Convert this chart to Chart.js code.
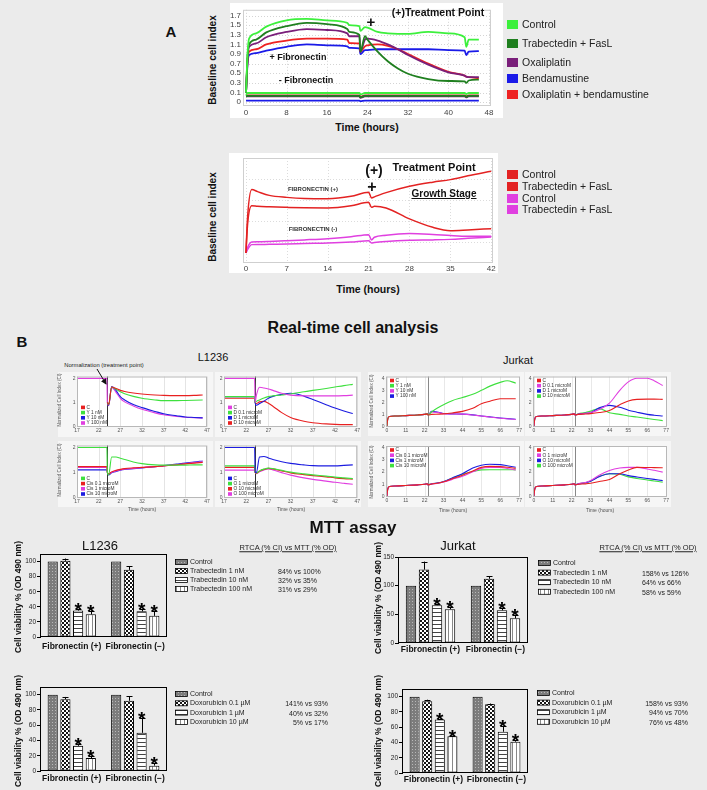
<!DOCTYPE html>
<html><head><meta charset="utf-8">
<script src="https://cdn.jsdelivr.net/npm/chart.js@4.4.1/dist/chart.umd.min.js"></script>
<style>
body{margin:0;background:#ebebeb;font-family:"Liberation Sans",Arial,Helvetica,sans-serif;}
#root{position:relative;width:707px;height:790px;overflow:hidden;background:#ebebeb;}
canvas{position:absolute;}
.t{position:absolute;white-space:nowrap;color:#111;line-height:1;}
.sq{position:absolute;}
</style></head><body><div id="root"></div>
<script>
// ================= DATA =================
// Panel A (top): Baseline cell index, +/- fibronectin
const aTime = [0,0.3,0.6,2,4,8,12,16,20,20.4,22.4,22.6,23.5,24,26,28,30,32,36,40,43.2,43.5,44,46];
const aCtrlPos  = [0.1,0.9,1.22,1.33,1.47,1.6,1.63,1.6,1.55,1.5,1.48,1.38,1.46,1.45,1.36,1.33,1.32,1.32,1.36,1.33,1.25,1.05,1.2,1.2];
const aTrabPos  = [0.1,0.85,1.1,1.2,1.35,1.48,1.55,1.52,1.42,1.36,1.3,0.95,1.27,1.2,0.95,0.75,0.6,0.49,0.38,0.34,0.33,0.3,0.35,0.37];
const aOxaPos   = [0.1,0.8,1.05,1.12,1.25,1.36,1.42,1.4,1.33,1.27,1.27,0.95,1.2,1.22,1.18,1.1,1.0,0.88,0.68,0.52,0.45,0.43,0.42,0.42];
const aBendaPos = [0.1,0.7,0.88,0.92,0.97,1.05,1.1,1.08,1.06,1.03,1.02,0.9,0.98,0.98,1.0,1.0,1.0,1.0,1.0,0.98,0.97,0.88,0.95,0.96];
const aOxBePos  = [0.1,0.75,0.95,1.0,1.1,1.18,1.22,1.22,1.2,1.13,1.12,0.95,1.06,1.08,1.1,1.07,1.0,0.9,0.7,0.53,0.45,0.43,0.42,0.4];
const aCtrlNeg  = [0.05,0.09,0.09,0.09,0.09,0.09,0.09,0.09,0.09,0.09,0.09,0.06,0.09,0.09,0.09,0.09,0.09,0.09,0.09,0.09,0.09,0.07,0.09,0.09];
const aTrabNeg  = [0.02,0.03,0.03,0.03,0.03,0.03,0.03,0.03,0.03,0.03,0.03,0.0,0.03,0.03,0.03,0.03,0.03,0.03,0.03,0.03,0.03,0.01,0.03,0.03];
const aOxaNeg   = [0.02,0.02,0.02,0.02,0.02,0.02,0.02,0.02,0.02,0.02,0.02,-0.01,0.02,0.02,0.02,0.02,0.02,0.02,0.02,0.02,0.02,0.0,0.02,0.02];
const aBendaNeg = [-0.07,-0.07,-0.07,-0.07,-0.07,-0.07,-0.07,-0.07,-0.07,-0.07,-0.07,-0.08,-0.07,-0.07,-0.07,-0.07,-0.07,-0.07,-0.07,-0.07,-0.07,-0.07,-0.07,-0.07];
const aOxBeNeg  = [0.03,0.04,0.04,0.04,0.04,0.04,0.04,0.04,0.04,0.04,0.04,0.01,0.04,0.04,0.04,0.04,0.04,0.04,0.04,0.04,0.04,0.02,0.04,0.04];
const aXTicks = [0,8,16,24,32,40,48];
const aYTickVals = [-0.1,0.1,0.3,0.5,0.7,0.9,1.1,1.3,1.5,1.7];
const aYTickLabels = ['0','0.1','0.3','0.5','0.7','0.9','1.1','1.3','1.5','1.7'];
const aLegend = ['Control','Trabectedin + FasL','Oxaliplatin','Bendamustine','Oxaliplatin + bendamustine'];

// Panel A (bottom)
const a2Time = [0,0.3,1,2,4,7,10,14,18,21,21.5,22,24,28,32,35,38,42];
const a2CtrlPos = [0.95,4.5,7.0,6.8,6.44,6.25,6.15,6.13,6.35,6.73,6.2,6.3,6.7,7.3,7.7,7.94,8.3,8.73];
const a2TrabPos = [0.95,3.8,5.46,5.4,5.35,5.3,5.26,5.24,5.45,5.78,5.3,5.4,5.24,4.2,3.4,3.08,3.15,3.27];
const a2CtrlNeg = [0.95,1.5,2.0,2.02,2.05,2.12,2.2,2.32,2.5,2.7,2.2,2.45,2.65,2.8,2.72,2.62,2.55,2.54];
const a2TrabNeg = [0.95,1.3,1.75,1.76,1.78,1.8,1.85,1.9,2.0,2.13,1.9,1.95,2.05,2.16,2.2,2.25,2.35,2.48];
const a2XTicks = [0,7,14,21,28,35,42];
const a2Legend = ['Control','Trabectedin + FasL','Control','Trabectedin + FasL'];

// Panel B: RTCA, L1236 (time in hours)
const tL = [17,23.9,24,24.3,25,26,27,28,30,32,35,37,40,42,44,46];
const lY_C   = [null,null,1,0.92,1.64,1.58,1.5,1.45,1.39,1.35,1.31,1.29,1.28,1.28,1.29,1.31];
const lY_1   = [null,null,1,0.9,1.63,1.55,1.44,1.36,1.25,1.17,1.1,1.07,1.07,1.08,1.09,1.1];
const lY_10  = [null,null,1,0.88,1.66,1.5,1.24,1.1,0.91,0.78,0.62,0.52,0.44,0.39,0.37,0.35];
const lY_100 = [2,2,1,0.86,1.62,1.42,1.17,1.02,0.85,0.71,0.56,0.48,0.41,0.38,0.36,0.35];
const lD_C   = [2,2,1,1.3,1.63,1.6,1.56,1.5,1.38,1.3,1.27,1.27,1.27,1.27,1.28,1.3];
const lD_01  = [1.24,1.24,1,1.04,1.1,1.18,1.24,1.27,1.31,1.35,1.44,1.5,1.58,1.64,1.7,1.75];
const lD_1   = [1.24,1.24,1,0.88,0.95,1.05,1.17,1.25,1.33,1.38,1.26,1.12,0.9,0.76,0.64,0.53];
const lD_10  = [1.17,1.17,1,0.95,1.02,1.04,0.96,0.84,0.57,0.37,0.21,0.15,0.1,0.08,0.07,0.07];
const lC_C   = [2,2,1,0.9,1.62,1.62,1.57,1.52,1.42,1.35,1.3,1.29,1.29,1.29,1.3,1.3];
const lC_01  = [1.23,1.23,1,0.94,1.02,1.08,1.12,1.15,1.18,1.2,1.23,1.26,1.3,1.34,1.37,1.4];
const lC_1   = [1.2,1.2,1,0.93,1.0,1.06,1.1,1.13,1.16,1.19,1.23,1.26,1.31,1.35,1.39,1.42];
const lC_10  = [1.1,1.1,1,0.9,0.98,1.04,1.09,1.12,1.15,1.18,1.23,1.27,1.33,1.37,1.42,1.46];
const lO_C   = [2,2,1,1.0,1.62,1.64,1.58,1.52,1.43,1.36,1.3,1.27,1.26,1.26,1.28,1.3];
const lO_1   = [1.26,1.26,1,0.98,1.06,1.13,1.17,1.15,1.08,1.01,0.94,0.9,0.85,0.81,0.78,0.75];
const lO_10  = [1.2,1.2,1,0.97,1.05,1.12,1.16,1.14,1.06,0.98,0.91,0.87,0.82,0.78,0.75,0.73];
const lO_100 = [1.09,1.09,1,0.95,1.02,1.1,1.14,1.1,0.99,0.89,0.78,0.72,0.65,0.6,0.56,0.52];
const lXTicks = [17,22,27,32,37,42,47];
const lYTicks = [0,1,2];

// Panel B: RTCA, Jurkat
const tJ = [0,0.5,1.5,5,11,18,22,23.5,24,26,30,33,38,44,50,55,60,66,70,75];
const jPre = [0,0.6,0.82,0.86,0.9,0.95,1.0,1.04,0.95];
const jY_C   = jPre.concat([1.0,1.02,1.04,1.12,1.25,1.5,1.88,2.09,2.3,2.3,2.3]);
const jY_1   = jPre.concat([1.2,1.57,1.8,2.14,2.4,2.67,3.0,3.35,3.66,3.8,3.6]);
const jY_10  = jPre.concat([1.2,1.15,1.05,1.03,1.02,0.95,0.86,0.78,0.68,0.63,0.58]);
const jY_100 = jPre.concat([1.25,1.17,1.07,1.04,1.02,0.96,0.87,0.79,0.7,0.65,0.6]);
const jD_C   = jPre.concat([1.0,1.03,1.06,1.15,1.32,1.8,2.12,2.25,2.27,2.27,2.25]);
const jD_01  = jPre.concat([1.02,1.08,1.15,1.4,1.93,3.0,3.7,4.0,4.0,3.8,3.4]);
const jD_1   = jPre.concat([1.03,1.08,1.14,1.54,1.75,1.59,1.35,1.18,1.0,0.93,0.87]);
const jD_10  = jPre.concat([1.05,1.15,1.27,1.48,1.14,1.0,0.87,0.78,0.66,0.58,0.48]);
const jC_C   = jPre.concat([1.02,1.1,1.2,1.45,1.74,2.1,2.39,2.47,2.45,2.4,2.31]);
const jC_01  = jPre.concat([1.02,1.08,1.18,1.4,1.66,2.02,2.31,2.38,2.39,2.3,2.18]);
const jC_1   = jPre.concat([1.03,1.12,1.23,1.52,1.87,2.34,2.57,2.65,2.62,2.52,2.4]);
const jC_10  = jPre.concat([1.02,1.1,1.21,1.48,1.82,2.05,2.18,2.2,2.2,2.2,2.18]);
const jO_C   = jPre.concat([1.0,1.03,1.08,1.22,1.4,1.87,2.18,2.39,2.38,2.37,2.36]);
const jO_1   = jPre.concat([1.04,1.15,1.3,1.74,2.13,2.34,2.39,2.39,2.26,2.15,2.0]);
const jO_10  = jPre.concat([1.03,1.12,1.25,1.61,1.87,1.87,1.71,1.6,1.48,1.4,1.3]);
const jO_100 = jPre.concat([1.03,1.12,1.25,1.66,1.87,1.82,1.61,1.48,1.35,1.27,1.17]);
const jXTicks = [0,11,22,33,44,55,66,77];
const jYTicks = [0,1,2,3,4];

// MTT assay (cell viability %, OD 490 nm)
const mttGroups = ['Fibronectin (+)','Fibronectin (\u2212)'];
const trabLabels = ['Control','Trabectedin 1 nM','Trabectedin 10 nM','Trabectedin 100 nM'];
const doxoLabels = ['Control','Doxorubicin 0.1 \u00b5M','Doxorubicin 1 \u00b5M','Doxorubicin 10 \u00b5M'];
const l1236TrabMean = [[100,100],[101,89],[35,34],[30,28]];
const l1236TrabErr  = [[0,0],[3,5],[2,3],[5,7]];
const jurkatTrabMean = [[100,100],[128,112],[66,57],[59,43]];
const jurkatTrabErr  = [[0,0],[14,4],[2,4],[4,6]];
const l1236DoxoMean = [[100,100],[94,92],[33,50],[17,7]];
const l1236DoxoErr  = [[0,0],[3,6],[3,20],[2,3]];
const jurkatDoxoMean = [[100,100],[94,90],[70,54],[48,41]];
const jurkatDoxoErr  = [[0,0],[2,1],[1,7],[1,2]];
const starFlags = [[false,false],[false,false],[true,true],[true,true]];
const l1236TrabRtca = ['84% vs 100%','32% vs 35%','31% vs 29%'];
const jurkatTrabRtca = ['158% vs 126%','64% vs 66%','58% vs 59%'];
const l1236DoxoRtca = ['141% vs 93%','40% vs 32%','5% vs 17%'];
const jurkatDoxoRtca = ['158% vs 93%','94% vs 70%','76% vs 48%'];

// ================= RENDER =================
const root = document.getElementById('root');
const FONT = '"Liberation Sans", Arial, Helvetica, sans-serif';
Chart.defaults.font.family = FONT;

const RED='#e82020', GREEN='#3ee03e', BLUE='#1c1ce0', MAG='#e03ee0';

function mk(cv, plot){
  const c = document.createElement('canvas');
  c.width = cv[2]-cv[0]; c.height = cv[3]-cv[1];
  c.style.left = cv[0]+'px'; c.style.top = cv[1]+'px';
  c.style.width = c.width+'px'; c.style.height = c.height+'px';
  root.appendChild(c);
  return {el:c, pad:{left:0, top:plot[1]-cv[1], right:cv[2]-plot[2], bottom:0}, yW:plot[0]-cv[0], xH:cv[3]-plot[3]};
}

const deco = {
  id:'deco',
  beforeDraw(chart, args, o){
    const {ctx, chartArea:a, width, height} = chart;
    ctx.save();
    if(o.canvasBg){ ctx.fillStyle=o.canvasBg; ctx.fillRect(0,0,width,height); }
    if(o.areaBg){ ctx.fillStyle=o.areaBg; ctx.fillRect(a.left,a.top,a.right-a.left,a.bottom-a.top); }
    if(o.gridX){ ctx.strokeStyle=o.gridColor||'#ddd'; ctx.lineWidth=1; if(o.gridDash) ctx.setLineDash(o.gridDash);
      o.gridX.forEach(v=>{ const x=Math.round(chart.scales.x.getPixelForValue(v))+0.5; ctx.beginPath(); ctx.moveTo(x,a.top); ctx.lineTo(x,a.bottom); ctx.stroke(); }); }
    if(o.gridY){ ctx.strokeStyle=o.gridColor||'#ddd'; ctx.lineWidth=1; if(o.gridDash) ctx.setLineDash(o.gridDash);
      o.gridY.forEach(v=>{ const y=Math.round(chart.scales.y.getPixelForValue(v))+0.5; ctx.beginPath(); ctx.moveTo(a.left,y); ctx.lineTo(a.right,y); ctx.stroke(); }); }
    ctx.restore();
  },
  beforeDatasetsDraw(chart, args, o){
    if(o.vline===undefined) return;
    const {ctx, chartArea:a} = chart;
    const x = Math.round(chart.scales.x.getPixelForValue(o.vline))+0.5;
    ctx.save(); ctx.strokeStyle=o.vlineColor||'#444'; ctx.lineWidth=1;
    ctx.beginPath(); ctx.moveTo(x,a.top); ctx.lineTo(x,a.bottom); ctx.stroke(); ctx.restore();
  },
  afterDatasetsDraw(chart, args, o){
    if(!o.box) return;
    const {ctx, chartArea:a} = chart;
    ctx.save(); ctx.strokeStyle=o.box; ctx.lineWidth=o.boxWidth||1;
    ctx.strokeRect(a.left+0.5,a.top+0.5,a.right-a.left-1,a.bottom-a.top-1); ctx.restore();
  }
};

const innerLegend = {
  id:'innerLegend',
  afterDraw(chart, args, o){
    if(!o || !o.pos) return;
    const {ctx, chartArea:a} = chart;
    const ds = chart.data.datasets; const lh = 5.2;
    ctx.save(); ctx.font = '4.8px '+FONT; ctx.textBaseline='middle';
    const x = a.left + o.dx;
    const y0 = o.pos==='bl' ? a.bottom - o.dy - lh*(ds.length-1) : a.top + o.dy;
    ds.forEach((d,i)=>{ const y=y0+i*lh; ctx.fillStyle=d.borderColor; ctx.fillRect(x,y-1.8,4,3.6); ctx.fillStyle='#333'; ctx.fillText(d.label,x+5.5,y); });
    ctx.restore();
  }
};

function lineChart(cv, plot, o){
  const m = mk(cv, plot);
  return new Chart(m.el, {
    type:'line',
    data:{ datasets: o.series.map(s=>({
      label:s.label, data:o.time.map((t,i)=>({x:t, y:s.data[i]})),
      borderColor:s.color, backgroundColor:s.color, borderWidth:o.lw, pointRadius:0,
      cubicInterpolationMode:'monotone', spanGaps:false, clip:4 })) },
    options:{
      responsive:false, animation:false, devicePixelRatio:1, events:[],
      layout:{padding:m.pad},
      plugins:{ legend:{display:false}, tooltip:{enabled:false}, deco:o.deco, innerLegend:o.legend||{} },
      scales:{
        x:{ type:'linear', min:o.xr[0], max:o.xr[1],
            afterBuildTicks:s=>{ s.ticks = o.xTicks.map(v=>({value:v})); },
            ticks:{ font:{size:o.fs}, color:o.tc||'#444', padding:o.xPad||1, maxRotation:0, autoSkip:false },
            grid:{display:false, drawTicks:false, tickLength:0}, border:{display:false},
            afterFit:s=>{ s.height = m.xH; } },
        y:{ type:'linear', min:o.yr[0], max:o.yr[1],
            afterBuildTicks:s=>{ s.ticks = o.yTicks.map(v=>({value:v})); },
            ticks:{ display:o.yLabels!==false, font:{size:o.fs}, color:o.tc||'#444', padding:o.yPad||2, autoSkip:false,
                    callback:(v,i)=> o.yTickLabels ? o.yTickLabels[i] : String(v) },
            grid:{display:false, drawTicks:false, tickLength:0}, border:{display:false},
            afterFit:s=>{ s.width = m.yW; } }
      }
    },
    plugins:[deco, innerLegend]
  });
}

// ---------- Panel A top ----------
lineChart([230,3,503,118],[243,7,491,106],{
  time:aTime, lw:1.8, fs:8, tc:'#444', xr:[-0.6,48.4], yr:[-0.18,1.82],
  xTicks:aXTicks, yTicks:aYTickVals, yTickLabels:aYTickLabels, xPad:2, yPad:2,
  series:[
    {label:aLegend[0], data:aCtrlPos, color:'#3cf03c'},
    {label:aLegend[1], data:aTrabPos, color:'#1f7f1f'},
    {label:aLegend[2], data:aOxaPos, color:'#7a1f7a'},
    {label:aLegend[4], data:aOxBePos, color:'#ee2222'},
    {label:aLegend[3], data:aBendaPos, color:'#1a1ae8'},
    {label:aLegend[0], data:aCtrlNeg, color:'#3cf03c'},
    {label:aLegend[1], data:aTrabNeg, color:'#1f7f1f'},
    {label:aLegend[2], data:aOxaNeg, color:'#7a1f7a'},
    {label:aLegend[4], data:aOxBeNeg, color:'#c81e1e'},
    {label:aLegend[3], data:aBendaNeg, color:'#1a1ae8'}
  ],
  deco:{canvasBg:'#ffffff', gridX:aXTicks, gridY:aYTickVals, gridColor:'#d4d4d4', gridDash:[1,2], box:'#cfcfcf'}
});

// ---------- Panel A bottom ----------
lineChart([229,153,498,273],[243,158,493,263],{
  time:a2Time, lw:1.5, fs:8, tc:'#444', xr:[-0.5,42.3], yr:[0,10],
  xTicks:a2XTicks, yTicks:[1,2,3,4,5,6,7,8,9], yLabels:false, xPad:1,
  series:[
    {label:a2Legend[0], data:a2CtrlPos, color:'#e32222'},
    {label:a2Legend[1], data:a2TrabPos, color:'#e32222'},
    {label:a2Legend[2], data:a2CtrlNeg, color:'#e040e0'},
    {label:a2Legend[3], data:a2TrabNeg, color:'#e040e0'}
  ],
  deco:{canvasBg:'#ffffff', gridX:a2XTicks, gridY:[2,4,6,8], gridColor:'#dcdcdc', gridDash:[1,2], box:'#cfcfcf'}
});

// ---------- Panel B small charts ----------
const smallDeco = (v, col)=>({canvasBg:'#f6f6f6', areaBg:'#ffffff', box:'#b8b8b8', vline:v, vlineColor:col});
function smallL(cv, plot, series, legend){
  lineChart(cv, plot, {time:tL, lw:1.1, fs:5, tc:'#555', xr:[17,47], yr:[-0.03,2.08],
    xTicks:lXTicks, yTicks:lYTicks, series, legend, xPad:1, yPad:1.5,
    deco:Object.assign(smallDeco(24,'#333'),{gridX:lXTicks, gridColor:'#e4e4e4'})});
}
function smallJ(cv, plot, series, legend){
  lineChart(cv, plot, {time:tJ, lw:1.1, fs:5, tc:'#555', xr:[-0.5,77.5], yr:[-0.05,4.15],
    xTicks:jXTicks, yTicks:jYTicks, series, legend, xPad:1, yPad:1.5,
    deco:Object.assign(smallDeco(24,'#888'),{gridX:jXTicks, gridColor:'#e8e8e8'})});
}
smallL([58,372,213,437],[77,374,207,427],[
  {label:'C', data:lY_C, color:RED},{label:'Y 1 nM', data:lY_1, color:GREEN},
  {label:'Y 10 nM', data:lY_10, color:BLUE},{label:'Y 100 nM', data:lY_100, color:MAG}], {pos:'bl', dx:4, dy:4});
smallL([215,372,361,437],[224,374,358,427],[
  {label:'C', data:lD_C, color:MAG},{label:'D 0.1 microM', data:lD_01, color:GREEN},
  {label:'D 1 microM', data:lD_1, color:BLUE},{label:'D 10 microM', data:lD_10, color:RED}], {pos:'bl', dx:4, dy:4});
smallL([58,441,213,507],[77,444,207,498],[
  {label:'C', data:lC_C, color:GREEN},{label:'Cis 0.1 microM', data:lC_01, color:RED},
  {label:'Cis 1 microM', data:lC_1, color:MAG},{label:'Cis 10 microM', data:lC_10, color:BLUE}], {pos:'bl', dx:4, dy:4});
smallL([215,441,361,507],[224,444,358,498],[
  {label:'C', data:lO_C, color:BLUE},{label:'O 1 microM', data:lO_1, color:GREEN},
  {label:'O 10 microM', data:lO_10, color:RED},{label:'O 100 microM', data:lO_100, color:MAG}], {pos:'bl', dx:4, dy:4});
smallJ([368,372,524,436],[386,375,520,427],[
  {label:'C', data:jY_C, color:RED},{label:'Y 1 nM', data:jY_1, color:GREEN},
  {label:'Y 10 nM', data:jY_10, color:MAG},{label:'Y 100 nM', data:jY_100, color:BLUE}], {pos:'tl', dx:4, dy:4});
smallJ([525,372,671,436],[533,375,667,427],[
  {label:'C', data:jD_C, color:RED},{label:'D 0.1 microM', data:jD_01, color:MAG},
  {label:'D 1 microM', data:jD_1, color:BLUE},{label:'D 10 microM', data:jD_10, color:GREEN}], {pos:'tl', dx:4, dy:4});
smallJ([368,441,524,507],[386,446,520,497],[
  {label:'C', data:jC_C, color:RED},{label:'Cis 0.1 microM', data:jC_01, color:MAG},
  {label:'Cis 1 microM', data:jC_1, color:BLUE},{label:'Cis 10 microM', data:jC_10, color:GREEN}], {pos:'tl', dx:4, dy:4});
smallJ([525,441,671,507],[533,446,667,497],[
  {label:'C', data:jO_C, color:RED},{label:'O 1 microM', data:jO_1, color:MAG},
  {label:'O 10 microM', data:jO_10, color:BLUE},{label:'O 100 microM', data:jO_100, color:GREEN}], {pos:'tl', dx:4, dy:4});

// ---------- MTT bar charts ----------
function pat(type){
  const c=document.createElement('canvas'); const x=c.getContext('2d');
  if(type==='dot'){ c.width=c.height=3; x.fillStyle='#7c7c7c'; x.fillRect(0,0,3,3); x.fillStyle='#b8b8b8'; x.fillRect(1,1,1,1); }
  if(type==='check'){ c.width=c.height=4; x.fillStyle='#fff'; x.fillRect(0,0,4,4); x.fillStyle='#151515'; x.fillRect(0,0,2,2); x.fillRect(2,2,2,2); }
  if(type==='h'){ c.width=4; c.height=4; x.fillStyle='#fff'; x.fillRect(0,0,4,4); x.fillStyle='#444'; x.fillRect(0,0,4,1); }
  if(type==='v'){ c.width=4; c.height=4; x.fillStyle='#fff'; x.fillRect(0,0,4,4); x.fillStyle='#888'; x.fillRect(0,0,1,4); }
  return x.createPattern(c,'repeat');
}
const patterns = [pat('dot'), pat('check'), pat('h'), pat('v')];

const errPlugin = {
  id:'errbars',
  afterDatasetsDraw(chart){
    const ctx=chart.ctx, ys=chart.scales.y;
    chart.data.datasets.forEach((ds,di)=>{
      chart.getDatasetMeta(di).data.forEach((bar,i)=>{
        const e = ds.err[i], v = ds.data[i];
        const top = ys.getPixelForValue(v+e);
        ctx.save(); ctx.strokeStyle='#000'; ctx.lineWidth=1;
        if(e>0){ const x=Math.round(bar.x)+0.5; ctx.beginPath(); ctx.moveTo(x,bar.y); ctx.lineTo(x,top); ctx.moveTo(x-3,Math.round(top)+0.5); ctx.lineTo(x+3,Math.round(top)+0.5); ctx.stroke(); }
        if(ds.star[i]){ ctx.fillStyle='#000'; ctx.font='bold 19px '+FONT; ctx.textAlign='center'; ctx.textBaseline='alphabetic'; ctx.fillText('*', bar.x, top+7); }
        ctx.restore();
      });
    });
  }
};
const sideLegend = {
  id:'sideLegend',
  afterDraw(chart, args, o){
    if(!o || o.x===undefined) return;
    const ctx=chart.ctx; ctx.save(); ctx.font='7px '+FONT; ctx.textBaseline='middle';
    chart.data.datasets.forEach((d,i)=>{
      const y=o.y+i*o.dy;
      ctx.fillStyle=d.backgroundColor; ctx.fillRect(o.x,y-2.5,12,5);
      ctx.strokeStyle='#000'; ctx.lineWidth=0.8; ctx.strokeRect(o.x+0.5,y-2.5,12,5);
      ctx.fillStyle='#222'; ctx.fillText(d.label,o.x+15,y);
    });
    ctx.restore();
  }
};
function barChart(cv, plot, o){
  const m = mk(cv, plot);
  new Chart(m.el, {
    type:'bar',
    data:{ labels:mttGroups, datasets:o.mean.map((d,i)=>({
      label:o.labels[i], data:d, err:o.err[i], star:starFlags[i],
      backgroundColor:patterns[i], borderColor:'#000', borderWidth:1, borderSkipped:false,
      barPercentage:0.8, categoryPercentage:0.8 })) },
    options:{
      responsive:false, animation:false, devicePixelRatio:1, events:[],
      layout:{padding:m.pad},
      plugins:{ legend:{display:false}, tooltip:{enabled:false}, deco:{box:'#000'},
                sideLegend:{x:o.lx-cv[0], y:o.ly-cv[1], dy:o.ldy} },
      scales:{
        x:{ grid:{display:false, drawTicks:false, tickLength:0}, border:{display:false},
            ticks:{ font:{size:8.5, weight:'bold'}, color:'#111', padding:o.xPad, maxRotation:0, minRotation:0, autoSkip:false },
            afterFit:s=>{ s.height=m.xH; } },
        y:{ min:0, max:o.ymax, ticks:{ stepSize:o.step, font:{size:6.5}, color:'#222', padding:1 },
            grid:{ drawOnChartArea:false, drawTicks:true, tickLength:3, color:'#000' }, border:{display:true, color:'#000'},
            afterFit:s=>{ s.width=m.yW; } }
      }
    },
    plugins:[deco, errPlugin, sideLegend]
  });
}
barChart([0,540,360,660],[40,554,167,637],{mean:l1236TrabMean, err:l1236TrabErr, labels:trabLabels, ymax:110, step:10, xPad:5, lx:175, ly:562, ldy:9});
barChart([360,540,707,660],[398,557,528,643],{mean:jurkatTrabMean, err:jurkatTrabErr, labels:trabLabels, ymax:150, step:50, xPad:2, lx:538, ly:563, ldy:9.6});
barChart([0,670,360,790],[40,687,167,771],{mean:l1236DoxoMean, err:l1236DoxoErr, labels:doxoLabels, ymax:110, step:10, xPad:3, lx:175, ly:694, ldy:9.3});
barChart([360,670,707,790],[402,689,528,773],{mean:jurkatDoxoMean, err:jurkatDoxoErr, labels:doxoLabels, ymax:110, step:10, xPad:2, lx:537, ly:693, ldy:9.6});

// ---------- Text ----------
function T(s, x, y, css, al){
  const d=document.createElement('div'); d.className='t'; d.textContent=s;
  d.style.cssText += 'left:'+x+'px;top:'+y+'px;'+(css||'');
  const tx = al==='l'?'0':al==='r'?'-100%':'-50%';
  d.style.transform = 'translate('+tx+',-50%)'+(al==='v'?' rotate(-90deg)':'');
  root.appendChild(d); return d;
}
function SQ(x,y,w,h,c){ const d=document.createElement('div'); d.className='sq'; d.style.cssText='left:'+x+'px;top:'+y+'px;width:'+w+'px;height:'+h+'px;background:'+c; root.appendChild(d); }

// Panel A
T('A',171,31,'font-weight:bold;font-size:15px;');
T('Baseline cell index',213,60,'font-weight:bold;font-size:10px;','v');
T('Time (hours)',367,127,'font-weight:bold;font-size:10.5px;');
T('(+)Treatment Point',438,12,'font-weight:bold;font-size:10.5px;');
T('+',371,21,'font-weight:bold;font-size:15px;');
T('+ Fibronectin',298,57,'font-weight:bold;font-size:9px;');
T('- Fibronectin',306,80,'font-weight:bold;font-size:9px;');
const aLegColors=['#3cf03c','#1f7f1f','#7a1f7a','#1a1ae8','#ee2222'];
const aLegY=[24,43,62,78,94];
aLegend.forEach((s,i)=>{ SQ(507,aLegY[i]-4.5,11,9,aLegColors[i]); T(s,522,aLegY[i],'font-size:10.5px;color:#222;','l'); });

T('Baseline cell index',213,217,'font-weight:bold;font-size:10px;','v');
T('Time (hours)',368,289,'font-weight:bold;font-size:10.5px;');
T('(+)',374,170,'font-weight:bold;font-size:14px;');
T('Treatment Point',434,167,'font-weight:bold;font-size:11px;');
T('+',372,187,'font-weight:bold;font-size:16px;');
T('Growth Stage',444,194,'font-weight:bold;font-size:10px;text-decoration:underline;');
T('FIBRONECTIN (+)',313,189,'font-weight:bold;font-size:6px;color:#333;');
T('FIBRONECTIN (-)',313,229,'font-weight:bold;font-size:6px;color:#333;');
const a2LegColors=['#e32222','#e32222','#e040e0','#e040e0'];
const a2LegY=[174,186,198,209];
a2Legend.forEach((s,i)=>{ SQ(507,a2LegY[i]-4.5,11,9,a2LegColors[i]); T(s,522,a2LegY[i],'font-size:10.5px;color:#222;','l'); });

// Panel B
T('B',22,341,'font-weight:bold;font-size:15px;');
T('Real-time cell analysis',353,328,'font-weight:bold;font-size:16px;');
T('L1236',213,357,'font-size:11px;');
T('Jurkat',518,360,'font-size:11px;');
T('Normalization (treatment point)',104,365.5,'font-size:5.8px;color:#222;');
[[60,400],[60,470]].forEach(p=>T('Normalized Cell Index (CI)',p[0],p[1],'font-size:4.5px;color:#555;','v'));
[[372,401],[372,472]].forEach(p=>T('Normalized Cell Index (CI)',p[0],p[1],'font-size:4.5px;color:#555;','v'));
[[142,509],[291,509],[453,510],[600,510]].forEach(p=>T('Time (hours)',p[0],p[1],'font-size:5px;color:#555;'));
const svgNS='http://www.w3.org/2000/svg';
const svg=document.createElementNS(svgNS,'svg');
svg.setAttribute('width','707'); svg.setAttribute('height','790');
svg.style.cssText='position:absolute;left:0;top:0;pointer-events:none;';
svg.innerHTML='<defs><marker id="ah" markerWidth="6" markerHeight="6" refX="5" refY="3" orient="auto"><path d="M0,0 L6,3 L0,6 z" fill="#111"/></marker></defs><line x1="97" y1="369" x2="106" y2="384" stroke="#111" stroke-width="1" marker-end="url(#ah)"/>';
root.appendChild(svg);

// MTT
T('MTT assay',353,527,'font-weight:bold;font-size:17px;');
T('L1236',100,545,'font-size:13px;');
T('Jurkat',458,545,'font-size:13px;');
[[18,597],[378,598],[18,731],[378,731]].forEach(p=>T('Cell viability % (OD 490 nm)',p[0],p[1],'font-weight:bold;font-size:8.5px;','v'));
T('RTCA (% CI) vs MTT (% OD)',288,548,'font-size:7.5px;text-decoration:underline;color:#222;');
T('RTCA (% CI) vs MTT (% OD)',648,548,'font-size:7.5px;text-decoration:underline;color:#222;');
l1236TrabRtca.forEach((s,i)=>T(s,278,571+i*9,'font-size:7px;color:#222;','l'));
jurkatTrabRtca.forEach((s,i)=>T(s,642,572.6+i*9.6,'font-size:7px;color:#222;','l'));
l1236DoxoRtca.forEach((s,i)=>T(s,328,703.3+i*9.3,'font-size:7px;color:#222;','r'));
jurkatDoxoRtca.forEach((s,i)=>T(s,688,702.6+i*9.6,'font-size:7px;color:#222;','r'));
</script>
</body></html>
